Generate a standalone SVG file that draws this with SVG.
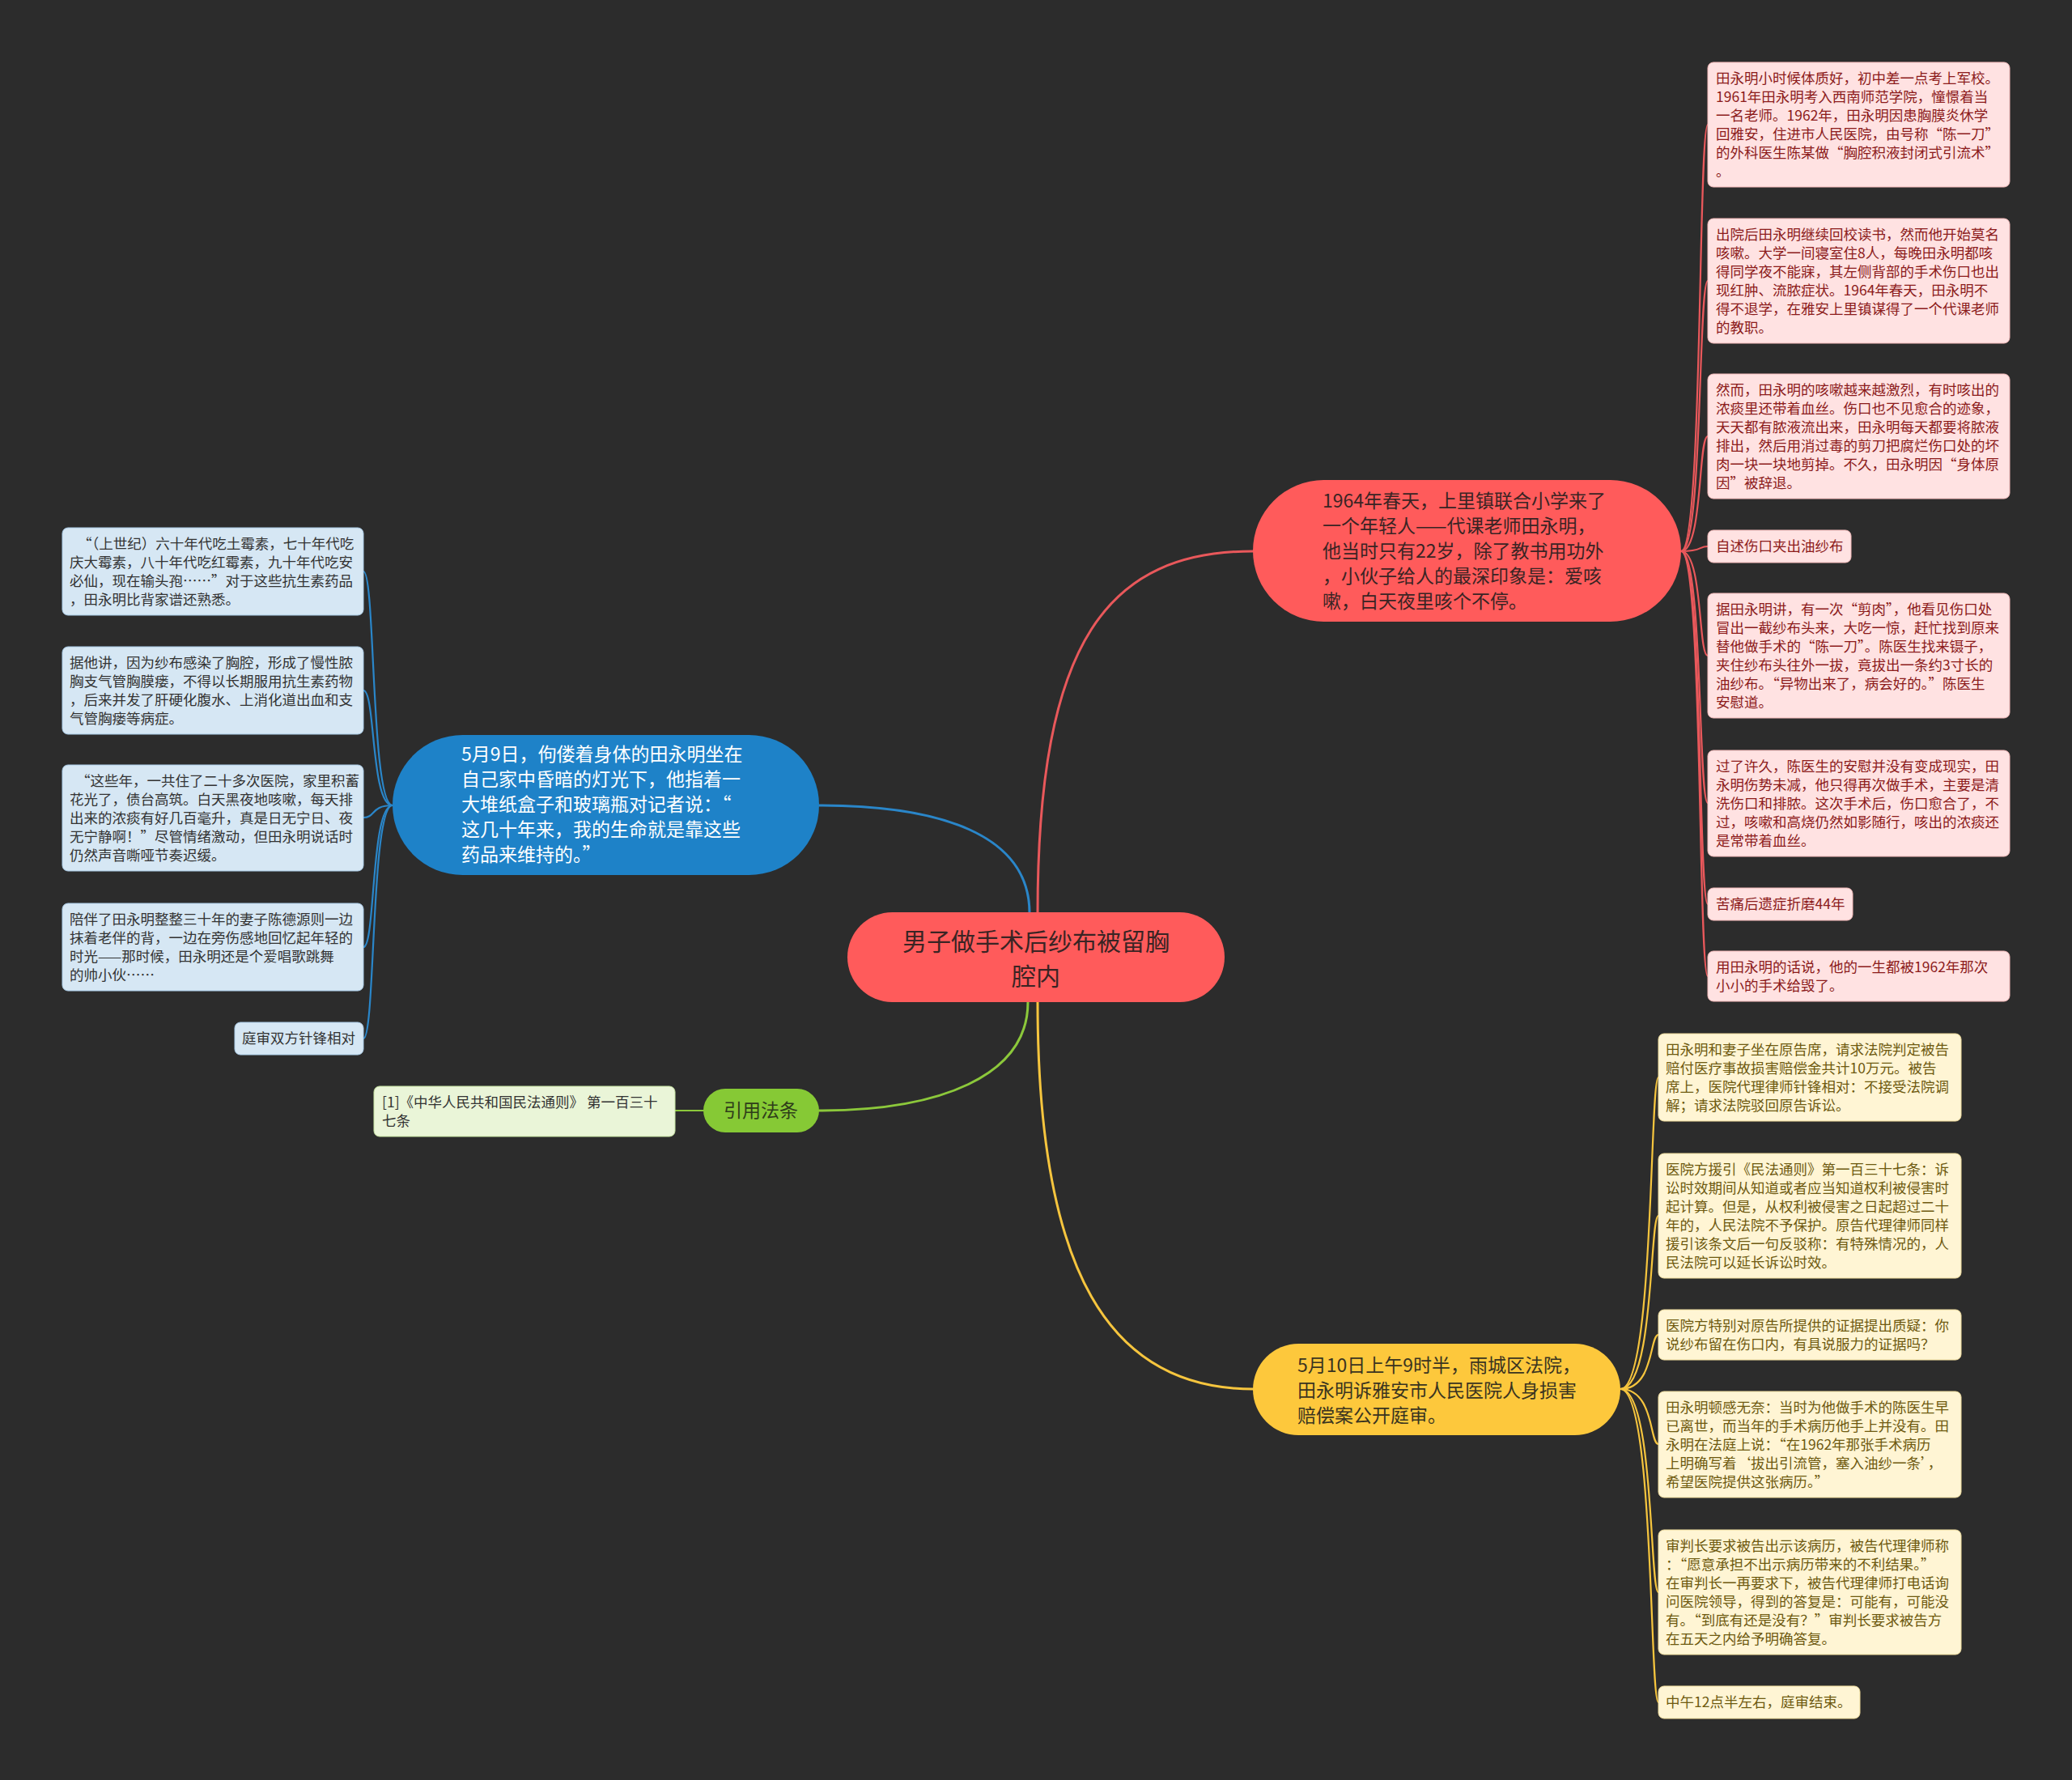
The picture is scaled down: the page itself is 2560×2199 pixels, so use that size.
<svg xmlns="http://www.w3.org/2000/svg" width="2560" height="2199" viewBox="0 0 2560 2199">
<style>
text{font-family:"Noto Sans CJK SC","Noto Sans",sans-serif;}
.lf{font-size:17.5px;}
.mn{font-size:23px;}
.rl rect{fill:#ffe2e2;stroke:#f3b9b9;stroke-width:1;}
.rl text{fill:#8c1b1b;}
.yl rect{fill:#fff5d4;stroke:#efdc9c;stroke-width:1;}
.yl text{fill:#6e5a10;}
.bl rect{fill:#d6e7f4;stroke:#a9cbe6;stroke-width:1;}
.bl text{fill:#333333;}
.gl rect{fill:#eaf5d8;stroke:#c5e2a0;stroke-width:1;}
.gl text{fill:#333333;}
.c{fill:none;stroke-linecap:round;}
.cr{stroke:#e9585b;}
.cb{stroke:#2a86c9;}
.cy{stroke:#f6c53e;}
.cg{stroke:#8cc83b;}
.w3{stroke-width:3;}
.w2{stroke-width:2.2;}
</style>
<rect x="0" y="0" width="2560" height="2199" fill="#2c2c2c"/>

<g id="connectors">
  <path class="c cr w3" d="M1282,1128 C1282,790 1370,681 1548,681"/>
  <path class="c cb w3" d="M1272,1128 C1272,1030 1160,995 1012,995"/>
  <path class="c cg w3" d="M1270,1238 C1270,1330 1160,1372 1012,1372"/>
  <path class="c cy w3" d="M1282,1238 C1282,1570 1370,1716 1548,1716"/>
  <path class="c cg w2" d="M869,1372 L834,1372"/>
  <!-- red leaves -->
  <path class="c cr w2" d="M2077,681 C2104,681 2098,154 2110,154"/>
  <path class="c cr w2" d="M2077,681 C2104,681 2098,347 2110,347"/>
  <path class="c cr w2" d="M2077,681 C2104,681 2098,539 2110,539"/>
  <path class="c cr w2" d="M2077,681 C2104,681 2098,675 2110,675"/>
  <path class="c cr w2" d="M2077,681 C2104,681 2098,810 2110,810"/>
  <path class="c cr w2" d="M2077,681 C2104,681 2098,992 2110,992"/>
  <path class="c cr w2" d="M2077,681 C2104,681 2098,1117 2110,1117"/>
  <path class="c cr w2" d="M2077,681 C2104,681 2098,1206 2110,1206"/>
  <!-- blue leaves -->
  <path class="c cb w2" d="M485,995 C458,995 464,706 449,706"/>
  <path class="c cb w2" d="M485,995 C458,995 464,853 449,853"/>
  <path class="c cb w2" d="M485,995 C458,995 464,1010 449,1010"/>
  <path class="c cb w2" d="M485,995 C458,995 464,1170 449,1170"/>
  <path class="c cb w2" d="M485,995 C458,995 464,1283 449,1283"/>
  <!-- yellow leaves -->
  <path class="c cy w2" d="M2002,1716 C2044,1716 2038,1331 2049,1331"/>
  <path class="c cy w2" d="M2002,1716 C2044,1716 2038,1502 2049,1502"/>
  <path class="c cy w2" d="M2002,1716 C2044,1716 2038,1649 2049,1649"/>
  <path class="c cy w2" d="M2002,1716 C2044,1716 2038,1784 2049,1784"/>
  <path class="c cy w2" d="M2002,1716 C2044,1716 2038,1967 2049,1967"/>
  <path class="c cy w2" d="M2002,1716 C2044,1716 2038,2103 2049,2103"/>
</g>

<g id="center">
  <rect x="1047" y="1127" width="466" height="111" rx="55.5" fill="#ff5b5b"/>
  <text x="1280" y="1174" text-anchor="middle" font-size="30" fill="#3a2424">男子做手术后纱布被留胸</text>
  <text x="1280" y="1217" text-anchor="middle" font-size="30" fill="#3a2424">腔内</text>
</g>

<g id="main-red">
  <rect x="1548" y="593" width="529" height="175" rx="87.5" fill="#ff5b5b"/>
  <text class="mn" fill="#3a2424">
    <tspan x="1634" y="627">1964年春天，上里镇联合小学来了</tspan>
    <tspan x="1634" y="658">一个年轻人——代课老师田永明，</tspan>
    <tspan x="1634" y="689">他当时只有22岁，除了教书用功外</tspan>
    <tspan x="1634" y="720">，小伙子给人的最深印象是：爱咳</tspan>
    <tspan x="1634" y="751">嗽，白天夜里咳个不停。</tspan>
  </text>
</g>

<g id="main-blue">
  <rect x="485" y="908" width="527" height="173" rx="86.5" fill="#1e82c8"/>
  <text class="mn" fill="#ffffff">
    <tspan x="570" y="940">5月9日，佝偻着身体的田永明坐在</tspan>
    <tspan x="570" y="971">自己家中昏暗的灯光下，他指着一</tspan>
    <tspan x="570" y="1002">大堆纸盒子和玻璃瓶对记者说：“</tspan>
    <tspan x="570" y="1033">这几十年来，我的生命就是靠这些</tspan>
    <tspan x="570" y="1064">药品来维持的。”</tspan>
  </text>
</g>

<g id="main-yellow">
  <rect x="1548" y="1660" width="454" height="113" rx="56.5" fill="#fdc83c"/>
  <text class="mn" fill="#3a3420">
    <tspan x="1603" y="1695">5月10日上午9时半，雨城区法院，</tspan>
    <tspan x="1603" y="1726">田永明诉雅安市人民医院人身损害</tspan>
    <tspan x="1603" y="1757">赔偿案公开庭审。</tspan>
  </text>
</g>

<g id="main-green">
  <rect x="869" y="1345" width="143" height="54" rx="27" fill="#86c935"/>
  <text x="940" y="1380" text-anchor="middle" font-size="23" fill="#2f3d1a">引用法条</text>
</g>

<g id="leaf-law" class="gl">
  <rect x="462" y="1342" width="372" height="62" rx="7"/>
  <text class="lf">
    <tspan x="472" y="1368">[1]《中华人民共和国民法通则》 第一百三十</tspan>
    <tspan x="472" y="1391">七条</tspan>
  </text>
</g>

<g id="leaf-r1" class="rl">
  <rect x="2110" y="77" width="373" height="154" rx="7"/>
  <text class="lf">
    <tspan x="2120" y="103">田永明小时候体质好，初中差一点考上军校。</tspan>
    <tspan x="2120" y="126">1961年田永明考入西南师范学院，憧憬着当</tspan>
    <tspan x="2120" y="149">一名老师。1962年，田永明因患胸膜炎休学</tspan>
    <tspan x="2120" y="172">回雅安，住进市人民医院，由号称“陈一刀”</tspan>
    <tspan x="2120" y="195">的外科医生陈某做“胸腔积液封闭式引流术”</tspan>
    <tspan x="2120" y="218">。</tspan>
  </text>
</g>

<g id="leaf-r2" class="rl">
  <rect x="2110" y="270" width="373" height="154" rx="7"/>
  <text class="lf">
    <tspan x="2120" y="296">出院后田永明继续回校读书，然而他开始莫名</tspan>
    <tspan x="2120" y="319">咳嗽。大学一间寝室住8人，每晚田永明都咳</tspan>
    <tspan x="2120" y="342">得同学夜不能寐，其左侧背部的手术伤口也出</tspan>
    <tspan x="2120" y="365">现红肿、流脓症状。1964年春天，田永明不</tspan>
    <tspan x="2120" y="388">得不退学，在雅安上里镇谋得了一个代课老师</tspan>
    <tspan x="2120" y="411">的教职。</tspan>
  </text>
</g>

<g id="leaf-r3" class="rl">
  <rect x="2110" y="462" width="373" height="154" rx="7"/>
  <text class="lf">
    <tspan x="2120" y="488">然而，田永明的咳嗽越来越激烈，有时咳出的</tspan>
    <tspan x="2120" y="511">浓痰里还带着血丝。伤口也不见愈合的迹象，</tspan>
    <tspan x="2120" y="534">天天都有脓液流出来，田永明每天都要将脓液</tspan>
    <tspan x="2120" y="557">排出，然后用消过毒的剪刀把腐烂伤口处的坏</tspan>
    <tspan x="2120" y="580">肉一块一块地剪掉。不久，田永明因“身体原</tspan>
    <tspan x="2120" y="603">因”被辞退。</tspan>
  </text>
</g>

<g id="leaf-r4" class="rl">
  <rect x="2110" y="655" width="177" height="40" rx="7"/>
  <text class="lf" x="2120" y="681">自述伤口夹出油纱布</text>
</g>

<g id="leaf-r5" class="rl">
  <rect x="2110" y="733" width="373" height="154" rx="7"/>
  <text class="lf">
    <tspan x="2120" y="759">据田永明讲，有一次“剪肉”，他看见伤口处</tspan>
    <tspan x="2120" y="782">冒出一截纱布头来，大吃一惊，赶忙找到原来</tspan>
    <tspan x="2120" y="805">替他做手术的“陈一刀”。陈医生找来镊子，</tspan>
    <tspan x="2120" y="828">夹住纱布头往外一拔，竟拔出一条约3寸长的</tspan>
    <tspan x="2120" y="851">油纱布。“异物出来了，病会好的。”陈医生</tspan>
    <tspan x="2120" y="874">安慰道。</tspan>
  </text>
</g>

<g id="leaf-r6" class="rl">
  <rect x="2110" y="927" width="373" height="131" rx="7"/>
  <text class="lf">
    <tspan x="2120" y="953">过了许久，陈医生的安慰并没有变成现实，田</tspan>
    <tspan x="2120" y="976">永明伤势未减，他只得再次做手术，主要是清</tspan>
    <tspan x="2120" y="999">洗伤口和排脓。这次手术后，伤口愈合了，不</tspan>
    <tspan x="2120" y="1022">过，咳嗽和高烧仍然如影随行，咳出的浓痰还</tspan>
    <tspan x="2120" y="1045">是常带着血丝。</tspan>
  </text>
</g>

<g id="leaf-r7" class="rl">
  <rect x="2110" y="1097" width="179" height="40" rx="7"/>
  <text class="lf" x="2120" y="1123">苦痛后遗症折磨44年</text>
</g>

<g id="leaf-r8" class="rl">
  <rect x="2110" y="1175" width="373" height="62" rx="7"/>
  <text class="lf">
    <tspan x="2120" y="1201">用田永明的话说，他的一生都被1962年那次</tspan>
    <tspan x="2120" y="1224">小小的手术给毁了。</tspan>
  </text>
</g>

<g id="leaf-b1" class="bl">
  <rect x="77" y="652" width="372" height="108" rx="7"/>
  <text class="lf">
    <tspan x="96" y="678">“（上世纪）六十年代吃土霉素，七十年代吃</tspan>
    <tspan x="86" y="701">庆大霉素，八十年代吃红霉素，九十年代吃安</tspan>
    <tspan x="86" y="724">必仙，现在输头孢……”对于这些抗生素药品</tspan>
    <tspan x="86" y="747">，田永明比背家谱还熟悉。</tspan>
  </text>
</g>

<g id="leaf-b2" class="bl">
  <rect x="77" y="799" width="372" height="108" rx="7"/>
  <text class="lf">
    <tspan x="86" y="825">据他讲，因为纱布感染了胸腔，形成了慢性脓</tspan>
    <tspan x="86" y="848">胸支气管胸膜瘘，不得以长期服用抗生素药物</tspan>
    <tspan x="86" y="871">，后来并发了肝硬化腹水、上消化道出血和支</tspan>
    <tspan x="86" y="894">气管胸瘘等病症。</tspan>
  </text>
</g>

<g id="leaf-b3" class="bl">
  <rect x="77" y="945" width="372" height="131" rx="7"/>
  <text class="lf">
    <tspan x="94" y="971">“这些年，一共住了二十多次医院，家里积蓄</tspan>
    <tspan x="86" y="994">花光了，债台高筑。白天黑夜地咳嗽，每天排</tspan>
    <tspan x="86" y="1017">出来的浓痰有好几百毫升，真是日无宁日、夜</tspan>
    <tspan x="86" y="1040">无宁静啊！”尽管情绪激动，但田永明说话时</tspan>
    <tspan x="86" y="1063">仍然声音嘶哑节奏迟缓。</tspan>
  </text>
</g>

<g id="leaf-b4" class="bl">
  <rect x="77" y="1116" width="372" height="108" rx="7"/>
  <text class="lf">
    <tspan x="86" y="1142">陪伴了田永明整整三十年的妻子陈德源则一边</tspan>
    <tspan x="86" y="1165">抹着老伴的背，一边在旁伤感地回忆起年轻的</tspan>
    <tspan x="86" y="1188">时光——那时候，田永明还是个爱唱歌跳舞</tspan>
    <tspan x="86" y="1211">的帅小伙……</tspan>
  </text>
</g>

<g id="leaf-b5" class="bl">
  <rect x="290" y="1263" width="159" height="40" rx="7"/>
  <text class="lf" x="299" y="1289">庭审双方针锋相对</text>
</g>

<g id="leaf-y1" class="yl">
  <rect x="2049" y="1277" width="374" height="108" rx="7"/>
  <text class="lf">
    <tspan x="2058" y="1303">田永明和妻子坐在原告席，请求法院判定被告</tspan>
    <tspan x="2058" y="1326">赔付医疗事故损害赔偿金共计10万元。被告</tspan>
    <tspan x="2058" y="1349">席上，医院代理律师针锋相对：不接受法院调</tspan>
    <tspan x="2058" y="1372">解；请求法院驳回原告诉讼。</tspan>
  </text>
</g>

<g id="leaf-y2" class="yl">
  <rect x="2049" y="1425" width="374" height="154" rx="7"/>
  <text class="lf">
    <tspan x="2058" y="1451">医院方援引《民法通则》第一百三十七条：诉</tspan>
    <tspan x="2058" y="1474">讼时效期间从知道或者应当知道权利被侵害时</tspan>
    <tspan x="2058" y="1497">起计算。但是，从权利被侵害之日起超过二十</tspan>
    <tspan x="2058" y="1520">年的，人民法院不予保护。原告代理律师同样</tspan>
    <tspan x="2058" y="1543">援引该条文后一句反驳称：有特殊情况的，人</tspan>
    <tspan x="2058" y="1566">民法院可以延长诉讼时效。</tspan>
  </text>
</g>

<g id="leaf-y3" class="yl">
  <rect x="2049" y="1618" width="374" height="62" rx="7"/>
  <text class="lf">
    <tspan x="2058" y="1644">医院方特别对原告所提供的证据提出质疑：你</tspan>
    <tspan x="2058" y="1667">说纱布留在伤口内，有具说服力的证据吗？</tspan>
  </text>
</g>

<g id="leaf-y4" class="yl">
  <rect x="2049" y="1719" width="374" height="131" rx="7"/>
  <text class="lf">
    <tspan x="2058" y="1745">田永明顿感无奈：当时为他做手术的陈医生早</tspan>
    <tspan x="2058" y="1768">已离世，而当年的手术病历他手上并没有。田</tspan>
    <tspan x="2058" y="1791">永明在法庭上说：“在1962年那张手术病历</tspan>
    <tspan x="2058" y="1814">上明确写着‘拔出引流管，塞入油纱一条’，</tspan>
    <tspan x="2058" y="1837">希望医院提供这张病历。”</tspan>
  </text>
</g>

<g id="leaf-y5" class="yl">
  <rect x="2049" y="1890" width="374" height="154" rx="7"/>
  <text class="lf">
    <tspan x="2058" y="1916">审判长要求被告出示该病历，被告代理律师称</tspan>
    <tspan x="2058" y="1939">：“愿意承担不出示病历带来的不利结果。”</tspan>
    <tspan x="2058" y="1962">在审判长一再要求下，被告代理律师打电话询</tspan>
    <tspan x="2058" y="1985">问医院领导，得到的答复是：可能有，可能没</tspan>
    <tspan x="2058" y="2008">有。“到底有还是没有？”审判长要求被告方</tspan>
    <tspan x="2058" y="2031">在五天之内给予明确答复。</tspan>
  </text>
</g>

<g id="leaf-y6" class="yl">
  <rect x="2049" y="2083" width="249" height="40" rx="7"/>
  <text class="lf" x="2058" y="2109">中午12点半左右，庭审结束。</text>
</g>
</svg>
